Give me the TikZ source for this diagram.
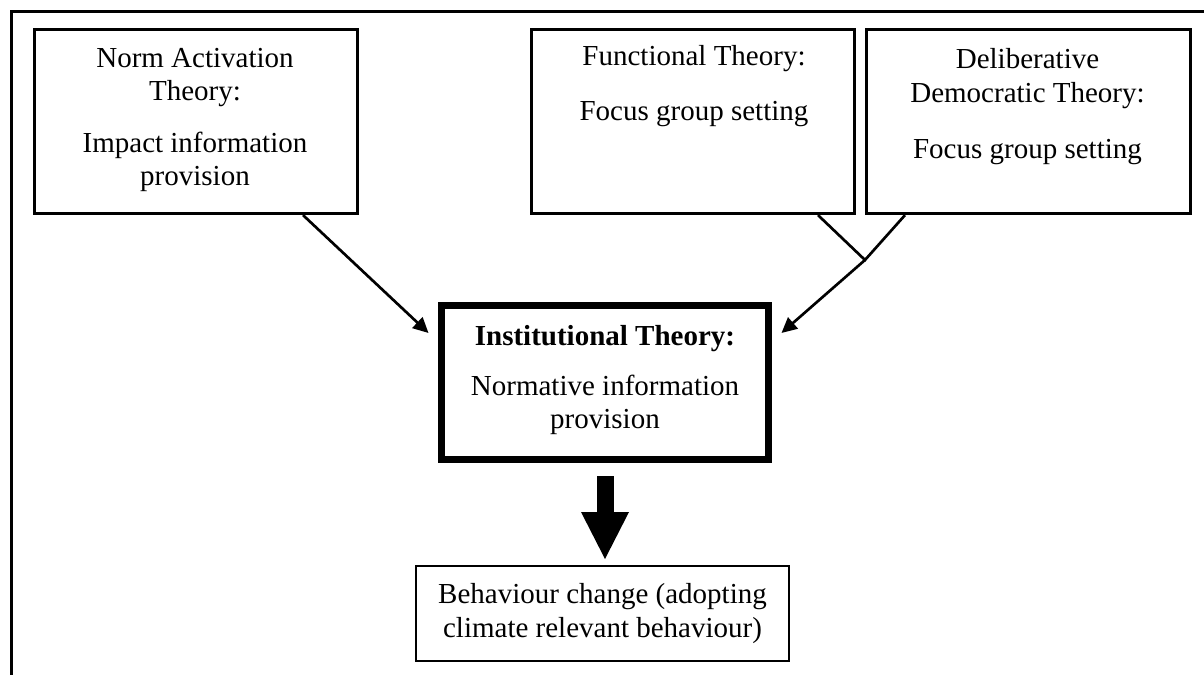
\documentclass[tikz,border=0pt]{standalone}
\usepackage{fontspec}
\setmainfont{Liberation Serif}
\usetikzlibrary{arrows.meta,calc}
\begin{document}
\begin{tikzpicture}[x=0.75pt,y=-0.75pt,
  frame/.style={line width=2.5pt},
  theorybox/.style={draw, line width=2.4pt, minimum width=242.25pt, minimum height=138pt, inner sep=0pt},
  instbox/.style={draw, line width=5.25pt, minimum width=245.25pt, minimum height=115.5pt, inner sep=0pt},
  outbox/.style={draw, line width=1.5pt, minimum width=279.75pt, minimum height=71.25pt, align=center, inner sep=0pt, font=\fontsize{21.75pt}{25pt}\selectfont},
  txt/.style={align=center, anchor=base, inner sep=0pt, font=\fontsize{21.75pt}{25pt}\selectfont},
  conn/.style={line width=2pt, -{Triangle[length=11.5pt,width=11pt]}},
  link/.style={line width=2pt},
  bigarrow/.style={line width=12.75pt, -{Triangle[length=35.25pt,width=36pt,line width=0pt]}}
]
\useasboundingbox (0,0) rectangle (1204,675);
\draw[frame] (11.7,676) -- (11.7,11.7) -- (1205,11.7);

\node[theorybox] (norm) at (196,121.5) {};
\node[theorybox] (func) at (693,121.5) {};
\node[theorybox, minimum width=243pt] (delib) at (1028.5,121.5) {};
\node[instbox] (inst) at (605,382.5) {};
\node[outbox] (beh) at (602.5,613.5) {Behaviour change (adopting\\climate relevant behaviour)};

% base anchor = baseline of the last line
\node[txt] (normtxt) at (195,185.4) {Norm Activation\\Theory:\\[13.6pt]Impact information\\provision};
\node[txt] (functxt) at (694,120) {Functional Theory:\\[16.2pt]Focus group setting};
\node[txt] (delibtxt) at (1027.5,158) {Deliberative\\Democratic Theory:\\[17pt]Focus group setting};
\node[txt] (insttxt) at (605,428.4) {\textbf{Institutional Theory:}\\[12.5pt]Normative information\\provision};

\coordinate (J) at (865,260);
\draw[conn] ($(norm.south)+(107,0)$) -- ($(inst.west)+(-9.5,-49.5)$);
\draw[link] ($(func.south)+(125,0)$) -- (J) -- ($(delib.south)+(-123.5,0)$);
\draw[conn] (J) -- ($(inst.east)+(9.5,-49.5)$);
\draw[bigarrow, shorten <=10.1pt, shorten >=4.5pt] (inst.south) -- (inst.south |- beh.north);
\end{tikzpicture}
\end{document}
